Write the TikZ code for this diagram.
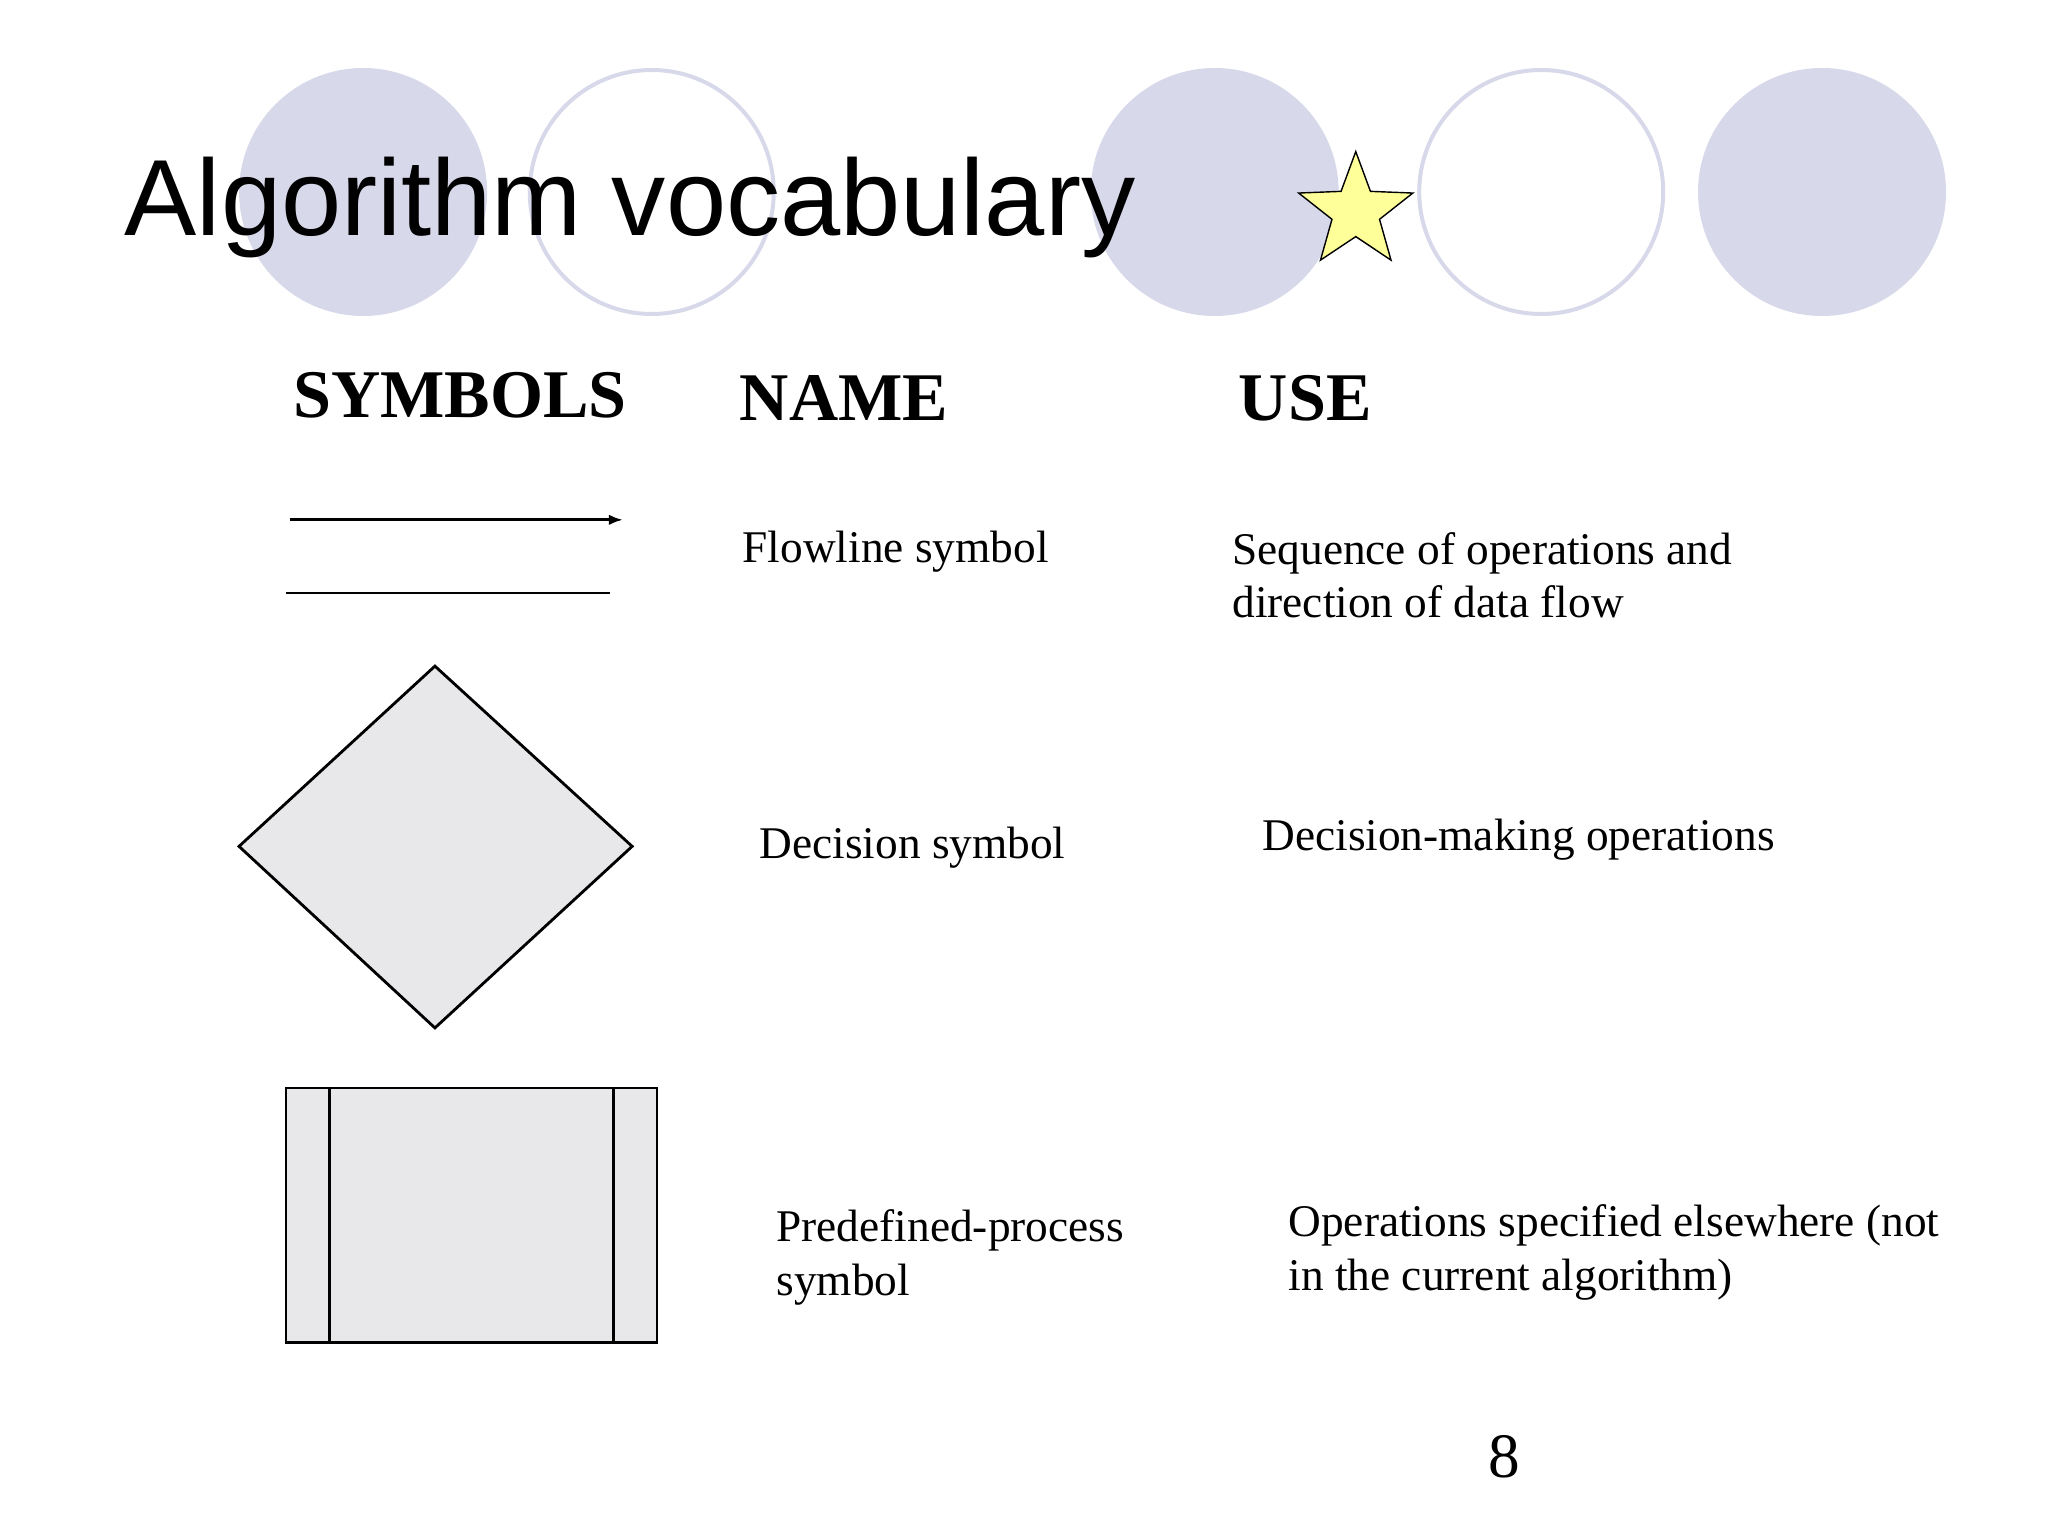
\documentclass[tikz,border=0pt]{standalone}
\usepackage{fontspec}
\setmainfont{Liberation Serif}
\newfontfamily\arialf{Liberation Sans}
\usetikzlibrary{shapes.geometric,arrows.meta}
\definecolor{lav}{RGB}{216,216,235}
\definecolor{shade}{RGB}{232,232,235}
\definecolor{staryel}{RGB}{255,255,153}
\tikzset{
  filledc/.style={circle,fill=lav,minimum size=2.48cm,inner sep=0pt},
  openc/.style={circle,draw=lav,line width=0.04cm,minimum size=2.44cm,inner sep=0pt},
  hdr/.style={anchor=base west,font=\fontsize{19.4}{22}\selectfont\bfseries,inner sep=0pt},
  body/.style={anchor=base west,font=\fontsize{12.9}{15.3}\selectfont,inner sep=0pt,align=left},
  shp/.style={draw,line width=0.8pt,fill=shade}
}
\begin{document}
\begin{tikzpicture}[x=0.01306cm,y=-0.01306cm]
\useasboundingbox (0,0) rectangle (1568,1176);
\node[filledc] (c1) at (278,147) {};
\node[openc] (c2) at (499,147) {};
\node[filledc] (c3) at (930,147) {};
\node[openc] (c4) at (1180,147) {};
\node[filledc] (c5) at (1395,147) {};
\node[star,star points=5,star point ratio=2.4,draw,fill=staryel,minimum size=1.2cm,inner sep=0pt] (st) at (1038,162) {};
\node[anchor=base west,inner sep=0pt,font=\arialf\fontsize{30.8}{34}\selectfont] (title) at (95,180) {Algorithm vocabulary};
\node[hdr] (h1) at (224,320) {SYMBOLS};
\node[hdr] (h2) at (566,322) {NAME};
\node[hdr] (h3) at (948,322) {USE};
\coordinate (a1) at (222,398); \coordinate (a2) at (477,398);
\draw[line width=0.8pt,-{Latex[length=4pt,width=3pt]}] (a1) -- (a2);
\coordinate (l1) at (219,454); \coordinate (l2) at (467,454);
\draw[line width=0.8pt] (l1) -- (l2);
\node[body] (n1) at (568,431) {Flowline symbol};
\node[body] (u1) at (943,473) {Sequence of operations and\\direction of data flow};
\draw[shp] (333,510) -- (484,648) -- (333,787) -- (183,648) -- cycle;
\node[body] (n2) at (581,657) {Decision symbol};
\node[body] (u2) at (966,651) {Decision-making operations};
\draw[shp] (219,833) rectangle (503,1028);
\draw[line width=0.8pt] (252,833) -- (252,1028) (470,833) -- (470,1028);
\node[body] (n3) at (594,992) {Predefined-process\\symbol};
\node[body] (u3) at (986,988) {Operations specified elsewhere (not\\in the current algorithm)};
\node[anchor=base,inner sep=0pt,font=\fontsize{18}{20}\selectfont] (pg) at (1152,1131) {8};
\end{tikzpicture}
\end{document}
